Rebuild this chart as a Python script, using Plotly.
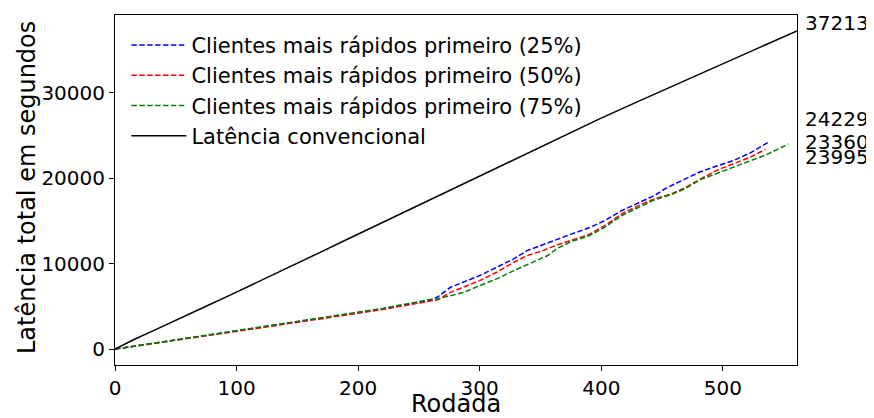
import plotly.graph_objects as go

# ---- data ----
conv_x = [0, 16, 33, 55, 74, 96, 126, 151, 170, 192, 222, 250, 275, 296, 330, 365, 399, 430, 465, 500, 530, 561]
conv_y = [0, 1150, 2250, 3650, 4950, 6400, 8400, 10100, 11400, 12900, 14950, 16850, 18550, 19950,
          22300, 24650, 26960, 28950, 31150, 33350, 35250, 37213]

p25_x = [0, 55, 110, 165, 220, 259, 265, 276, 287, 300, 314, 328, 339, 352, 364, 376, 390, 403, 417,
         431, 444, 453, 469, 481, 495, 509, 523, 538]
p25_y = [0, 1170, 2340, 3520, 4690, 5700, 6060, 7230, 7820, 8600, 9570, 10550, 11520, 12230, 12850,
         13480, 14190, 15040, 16210, 17080, 17980, 18800, 19850, 20710, 21410, 22070, 22980, 24229]

p50_x = [0, 55, 110, 165, 220, 259, 265, 276, 287, 300, 314, 328, 339, 352, 364, 376, 390, 403, 417,
         431, 444, 458, 469, 482, 495, 509, 523, 535]
p50_y = [0, 1120, 2280, 3450, 4620, 5620, 5740, 6640, 7230, 8010, 8990, 10160, 10940, 11520, 12200,
         12780, 13400, 14460, 15830, 16800, 17590, 18170, 18870, 19930, 20910, 21690, 22470, 23360]

p75_x = [0, 55, 110, 165, 220, 259, 265, 276, 287, 300, 314, 328, 342, 356, 364, 376, 390, 403, 417,
         431, 444, 458, 469, 482, 509, 536, 554]
p75_y = [0, 1200, 2400, 3580, 4760, 5800, 5860, 6250, 6640, 7420, 8210, 9180, 10050, 10940, 11800,
         12620, 13250, 14270, 15630, 16610, 17470, 18090, 18760, 19850, 21300, 22740, 23995]

series_names = ["Clientes mais rápidos primeiro (25%)",
                "Clientes mais rápidos primeiro (50%)",
                "Clientes mais rápidos primeiro (75%)",
                "Latência convencional"]

end_labels = ["37213", "24229", "23360", "23995"]
end_label_y = [38100, 26960, 24270, 22510]

x_ticks = [0, 100, 200, 300, 400, 500]
y_ticks = [0, 10000, 20000, 30000]
y_tick_text = ["0", "10000", "20000", "30000"]

x_title = "Rodada"
y_title = "Latência total em segundos"

FONT = "DejaVu Sans"
dash = "5.5px,2.4px"

fig = go.Figure()
fig.add_trace(go.Scatter(x=p25_x, y=p25_y, mode="lines", name=series_names[0],
                         line=dict(color="blue", width=1.5, dash=dash)))
fig.add_trace(go.Scatter(x=p50_x, y=p50_y, mode="lines", name=series_names[1],
                         line=dict(color="red", width=1.5, dash=dash)))
fig.add_trace(go.Scatter(x=p75_x, y=p75_y, mode="lines", name=series_names[2],
                         line=dict(color="green", width=1.5, dash=dash)))
fig.add_trace(go.Scatter(x=conv_x, y=conv_y, mode="lines", name=series_names[3],
                         line=dict(color="black", width=1.5)))

for txt, yv in zip(end_labels, end_label_y):
    fig.add_annotation(x=1, xref="paper", y=yv, yref="y", text=txt, showarrow=False,
                       xanchor="left", yanchor="middle", xshift=6,
                       font=dict(family=FONT, size=20, color="black"))

# axis titles
fig.add_annotation(x=0.5, xref="paper", y=0, yref="paper", text=x_title, showarrow=False,
                   xanchor="center", yanchor="middle", yshift=-39,
                   font=dict(family=FONT, size=24, color="black"))
fig.add_annotation(x=0, xref="paper", y=0.5, yref="paper", text=y_title, showarrow=False,
                   textangle=-90, xanchor="center", yanchor="middle", xshift=-88, yshift=2,
                   font=dict(family=FONT, size=24, color="black"))

fig.update_layout(
    width=866, height=410,
    margin=dict(l=107, r=77, t=7, b=53, autoexpand=False),
    paper_bgcolor="white", plot_bgcolor="white",
    font=dict(family=FONT, size=20, color="black"),
    showlegend=True,
    legend=dict(x=0.0167, y=0.972, xanchor="left", yanchor="top",
                bgcolor="rgba(255,255,255,0)", borderwidth=0,
                font=dict(family=FONT, size=21), itemwidth=55,
                tracegroupgap=0),
)
fig.update_xaxes(range=[0, 561], tickvals=x_ticks, showgrid=False, zeroline=False,
                 showline=True, linecolor="black", linewidth=1, mirror=True,
                 ticks="outside", ticklen=5, tickcolor="black", automargin=False,
                 tickfont=dict(family=FONT, size=20))
fig.update_yaxes(range=[-1860, 39074], tickvals=y_ticks, ticktext=y_tick_text,
                 showgrid=False, zeroline=False,
                 showline=True, linecolor="black", linewidth=1, mirror=True,
                 ticks="outside", ticklen=5, tickcolor="black", automargin=False,
                 tickfont=dict(family=FONT, size=20))

fig.write_html("out.html")
